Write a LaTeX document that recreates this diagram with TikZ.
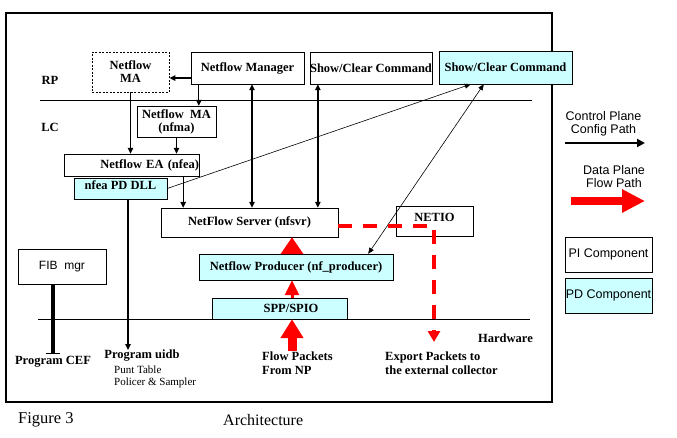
\documentclass[tikz,border=0pt]{standalone}
\usepackage{fontspec}
\setmainfont{Liberation Serif}
\newfontfamily\arialfont{Liberation Sans}
\usepackage{tikz}
\usetikzlibrary{positioning,arrows.meta}
\definecolor{pdcyan}{RGB}{204,255,255}

\begin{document}
\begin{tikzpicture}[x=1pt,y=-1pt,
	box/.style={draw,inner sep=0pt,font=\bfseries\fontsize{12.5}{13}\selectfont,align=center},
	pibox/.style={box,fill=white},
	pdbox/.style={box,fill=pdcyan},
	lbl/.style={inner sep=0pt,font=\bfseries\fontsize{12.5}{14}\selectfont,align=left},
	legendtxt/.style={inner sep=0pt,font=\arialfont\fontsize{12.5}{13}\selectfont,align=center},
	carr/.style={line width=1.3pt,-{Triangle[length=6pt,width=5.5pt]}},
	biarr/.style={line width=1.3pt,{Triangle[length=6pt,width=5.5pt]}-{Triangle[length=6pt,width=5.5pt]}},
	thinarr/.style={line width=0.6pt,-{Triangle[length=6pt,width=5pt]}},
	thinbiarr/.style={line width=0.6pt,{Triangle[length=6pt,width=5pt]}-{Triangle[length=6pt,width=5pt]}}]
	
	\useasboundingbox (0,0) rectangle (677,437);
	\draw[line width=2pt] (6,13) rectangle (552,402);
	\draw (40,100) -- (532,100);
	\draw (38,319) -- (530,319);
	
	% RP / LC components
	\node[pibox,dash pattern=on 2pt off 1.5pt,line width=0.8pt,minimum width=77pt,minimum height=40pt] (ma) at (130.5,72) {Netflow\\MA};
	\node[pibox,minimum width=113pt,minimum height=32pt] (mgr) at (247.5,68) {Netflow Manager};
	\node[pibox,minimum width=114pt,minimum height=32pt] (show) at (371,68) {Show/Clear Command};
	\node[pdbox,minimum width=133pt,minimum height=33pt] (showpd) at (505.5,67.5) {Show/Clear Command};
	\node[pibox,minimum width=79pt,minimum height=31pt] (nfma) at (176.5,121.5) {Netflow~ MA\\(nfma)};
	\node[pibox,text width=135pt,align=right,minimum height=22pt] (nfea) at (131.5,165) {Netflow EA (nfea)};
	\node[pdbox,text depth=7pt,minimum width=93pt,minimum height=21pt] (dll) at (120.5,188.5) {nfea PD DLL};
	\node[pibox,minimum width=177pt,minimum height=29pt] (svr) at (249.5,222.5) {NetFlow Server (nfsvr)};
	\node[pibox,text depth=6.5pt,minimum width=77pt,minimum height=30pt] (netio) at (434.5,221) {NETIO};
	\node[pdbox,minimum width=194pt,minimum height=26pt] (prod) at (296,267) {Netflow Producer (nf\_producer)};
	\node[pdbox,minimum width=135pt,minimum height=21pt] (spp) at (279.5,308.5) {\hspace*{23pt}SPP/SPIO};
	\node[pibox,font=\arialfont\fontsize{12}{13}\selectfont,minimum width=88pt,minimum height=35pt] (fib) at (62,266.5) {FIB~ mgr};
	
	% labels
	\node[lbl] (rp) at (50,80) {RP};
	\node[lbl] (lc) at (50,127) {LC};
	\node[lbl,anchor=east] (hw) at (533,338) {Hardware};
	\node[lbl] (cef) at (53,362) {Program CEF};
	\node[lbl] (uidb) at (142,356) {Program uidb};
	\node[inner sep=0pt,font=\fontsize{11}{12}\selectfont,align=left,anchor=north west] (punt) at (114,366) {Punt Table\\Policer \& Sampler};
	\node[lbl,anchor=west] (flow) at (262,363) {Flow Packets\\From NP};
	\node[lbl,anchor=west] (export) at (385,363) {Export Packets to\\the external collector};
	\coordinate (exptip) at (434,342);
	\node[inner sep=0pt,font=\fontsize{16.5}{17}\selectfont,anchor=west] (fig) at (18,420) {Figure 3};
	\node[inner sep=0pt,font=\fontsize{16}{17}\selectfont,anchor=west] (arch) at (223,420) {Architecture};
	
	% legend
	\node[legendtxt] (cptxt) at (603.5,123.5) {Control Plane\\Config Path};
	\coordinate (cp1) at (565,143);
	\coordinate (cp2) at (645,143);
	\node[legendtxt] (dptxt) at (614,176.5) {Data Plane\\Flow Path};
	\coordinate (dp1) at (571,201);
	\coordinate (dp2) at (645,201);
	\node[pibox,font=\arialfont\fontsize{12.5}{13}\selectfont,minimum width=87pt,minimum height=35pt] (pi) at (608.5,254.5) {PI Component};
	\node[pdbox,font=\arialfont\fontsize{12.5}{13}\selectfont,minimum width=87pt,minimum height=35pt] (pd) at (608.5,295.5) {PD Component};
	
	% control plane paths
	\draw[carr] ([yshift=-10pt]mgr.west) -- ([yshift=-10pt]mgr.west -| ma.east);
	\draw[carr] ([xshift=8pt]mgr.south west) -- ([xshift=8pt]mgr.south west |- nfma.north);
	\draw[carr] (ma.south) -- (ma.south |- nfea.north);
	\draw[carr] (nfma.south) -- (nfma.south |- nfea.north);
	\draw[carr] ([xshift=-16pt]nfea.south east) -- ([xshift=-16pt]nfea.south east |- svr.north);
	\draw[biarr] ([xshift=4.5pt]mgr.south) -- ([xshift=4.5pt]mgr.south |- svr.north);
	\draw[biarr] ([xshift=8pt]show.south west) -- ([xshift=8pt]show.south west |- svr.north);
	\draw[thinarr] (dll.east) -- ([xshift=32pt]showpd.south west);
	\draw[thinbiarr] ([xshift=-25pt]prod.north east) -- ([xshift=45pt]showpd.south west);
	\draw[carr] ([xshift=7.5pt]dll.south) -- ([xshift=7.5pt]dll.south |- uidb.north);
	\draw[line width=3.5pt,-{Bar[width=14pt,line width=1.5pt]}] (fib.south -| cef) -- ([yshift=2pt]cef.north);
	\draw[line width=2pt,-{Triangle[length=8pt,width=8pt]}] (cp1) -- (cp2);
	
	% data plane paths
	\draw[red,line width=9pt,-{Triangle[length=19pt,width=22pt]}] ([xshift=12.5pt]spp.south |- flow.north) -- ([xshift=12.5pt]spp.south);
	\draw[red,line width=3pt,-{Triangle[length=15pt,width=14pt]}] ([xshift=12.5pt]spp.north) -- ([xshift=12.5pt]spp.north |- prod.south);
	\draw[red,line width=4pt,-{Triangle[length=17pt,width=22pt]}] ([xshift=-4pt]prod.north) -- ([xshift=-4pt]prod.north |- svr.south);
	\draw[red,line width=3.5pt,dash pattern=on 14pt off 11pt,-{Triangle[length=11pt,width=12pt]}] ([yshift=-3.5pt]svr.east) -| (exptip);
	\draw[red,line width=8pt,-{Triangle[length=23pt,width=22pt]}] (dp1) -- (dp2);
	
\end{tikzpicture}
\end{document}
